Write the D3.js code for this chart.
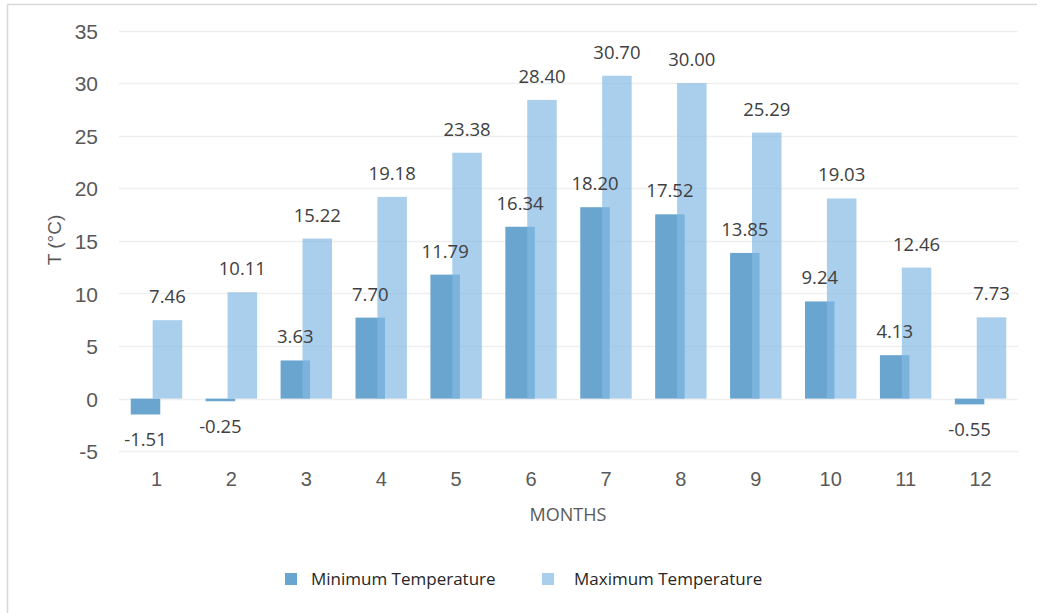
<!DOCTYPE html>
<html><head><meta charset="utf-8">
<script src="https://cdn.jsdelivr.net/npm/d3@7"></script>
<style>html,body{margin:0;padding:0;background:#fff;}svg{display:block;}</style>
</head><body>
<svg id="chart" width="1037" height="613"></svg>
<script>
const months = ["1","2","3","4","5","6","7","8","9","10","11","12"];
const minTemp = [-1.51,-0.25,3.63,7.70,11.79,16.34,18.20,17.52,13.85,9.24,4.13,-0.55];
const maxTemp = [7.46,10.11,15.22,19.18,23.38,28.40,30.70,30.00,25.29,19.03,12.46,7.73];
const yTicks = [-5,0,5,10,15,20,25,30,35];
const seriesNames = ["Minimum Temperature","Maximum Temperature"];

const svg = d3.select("#chart");
svg.append("rect").attr("x",7.5).attr("y",4.5).attr("width",1040).attr("height",620)
  .attr("fill","#fff").attr("stroke","#d9d9d9").attr("stroke-width",1.5);

const x = d3.scaleBand().domain(months).range([119,1018]);
const y = d3.scaleLinear().domain([-5,35]).range([451.2,30.5]);
const step = x.step();
const barW = step*0.394;
const half = step*0.0508;

// grid
svg.append("g").selectAll("line").data(yTicks).join("line")
  .attr("x1",119).attr("x2",1018)
  .attr("y1",d=>Math.round(y(d))+0.5).attr("y2",d=>Math.round(y(d))+0.5)
  .attr("stroke","#efefef").attr("stroke-width",1.3);

// y axis labels
const yAxis = d3.axisLeft(y).tickValues(yTicks).tickFormat(d=>String(d)).tickSize(0).tickPadding(0);
const gy = svg.append("g").attr("transform","translate(98,0)").call(yAxis);
gy.select(".domain").remove();
gy.selectAll("text").attr("font-family","Liberation Sans, Arial, sans-serif")
  .attr("font-size",21).attr("fill","#595959").attr("dy","0.36em");

// x axis labels
const xAxis = d3.axisBottom(x).tickSize(0).tickPadding(0);
const gx = svg.append("g").attr("transform","translate(0,472)").call(xAxis);
gx.select(".domain").remove();
gx.selectAll("text").attr("font-family","Liberation Sans, Arial, sans-serif")
  .attr("font-size",20).attr("fill","#595959").attr("dy","0.71em");

const cx = m => x(m) + step/2;
const minColor = "#6aa5cf";
const maxColor = "#82b9e4";

svg.append("g").selectAll("rect").data(months).join("rect")
  .attr("x",(m)=>cx(m)-barW+half)
  .attr("width",barW)
  .attr("y",(m,i)=>Math.min(y(minTemp[i]),y(0)))
  .attr("height",(m,i)=>Math.abs(y(minTemp[i])-y(0)))
  .attr("fill",minColor);

svg.append("g").selectAll("rect").data(months).join("rect")
  .attr("x",(m)=>cx(m)-half)
  .attr("width",barW)
  .attr("y",(m,i)=>Math.min(y(maxTemp[i]),y(0)))
  .attr("height",(m,i)=>Math.abs(y(maxTemp[i])-y(0)))
  .attr("fill",maxColor).attr("fill-opacity",0.69);

const labelFont = "Open Sans, Noto Sans, sans-serif";
svg.append("g").selectAll("text").data(months).join("text")
  .attr("x",m=>cx(m)-barW/2+half)
  .attr("y",(m,i)=>minTemp[i]>=0 ? y(minTemp[i])-17 : y(minTemp[i])+32)
  .attr("text-anchor","middle").attr("font-family",labelFont).attr("font-size",18.5)
  .attr("fill","#404040").text((m,i)=>minTemp[i].toFixed(2));

svg.append("g").selectAll("text").data(months).join("text")
  .attr("x",m=>cx(m)+barW/2-half)
  .attr("y",(m,i)=>y(maxTemp[i])-17)
  .attr("text-anchor","middle").attr("font-family",labelFont).attr("font-size",18.5)
  .attr("fill","#404040").text((m,i)=>maxTemp[i].toFixed(2));

// axis titles
svg.append("text").attr("x",568).attr("y",521).attr("text-anchor","middle")
  .attr("font-family",labelFont).attr("font-size",18).attr("fill","#595959").text("MONTHS");
svg.append("text").attr("transform","translate(61,240) rotate(-90)").attr("text-anchor","middle")
  .attr("font-family","Liberation Sans, Arial, sans-serif").attr("font-size",19).attr("fill","#595959").text("T (°C)");

// legend
const legend = [{name:seriesNames[0],color:minColor,op:1,sx:285,tx:311},
                {name:seriesNames[1],color:maxColor,op:0.69,sx:542,tx:574}];
const lg = svg.append("g").selectAll("g").data(legend).join("g");
lg.append("rect").attr("x",d=>d.sx).attr("y",573).attr("width",12).attr("height",12)
  .attr("fill",d=>d.color).attr("fill-opacity",d=>d.op);
lg.append("text").attr("x",d=>d.tx).attr("y",585).attr("font-family",labelFont)
  .attr("font-size",17).attr("fill","#262626").text(d=>d.name);
</script>
</body></html>
